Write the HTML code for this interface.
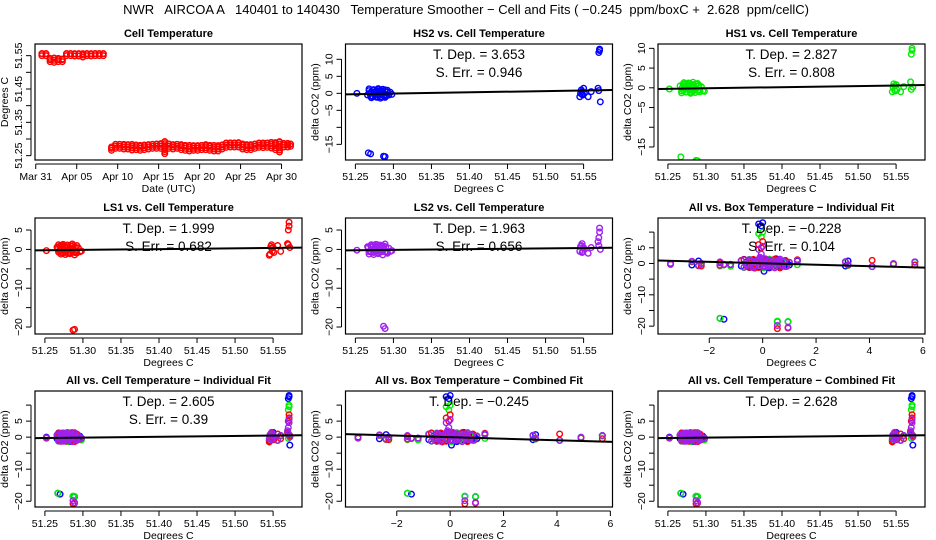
<!DOCTYPE html>
<html><head><meta charset="utf-8">
<style>
html,body{margin:0;padding:0;background:#fff;}
svg{display:block;font-family:"Liberation Sans",Arial,sans-serif;}
</style></head>
<body>
<svg id="chart" width="936" height="540" viewBox="0 0 936 540">
<text x="466" y="14" text-anchor="middle" font-size="13" xml:space="preserve">NWR   AIRCOA A   140401 to 140430   Temperature Smoother − Cell and Fits ( −0.245  ppm/boxC +  2.628  ppm/cellC)</text>
</svg>
<script>
// ---- Cell temperature time series (day offset from Mar 31 00:00) ----
const cellDays = [0.75,1.25,1.75,2.25,2.75,3.25,3.75,4.25,4.75,5.25,5.75,6.25,6.75,7.25,7.75,8.25,9.25,9.75,10.25,10.75,11.25,11.75,12.25,12.75,13.25,13.75,14.25,14.75,15.25,15.75,16.25,16.75,17.25,17.75,18.25,18.75,19.25,19.75,20.25,20.75,21.25,21.75,22.25,22.75,23.25,23.75,24.25,24.75,25.25,25.75,26.25,26.75,27.25,27.75,28.25,28.75,29.25,29.75,30.25,30.75,31.1];
const cellLo = [51.550,51.550,51.532,51.530,51.532,51.532,51.550,51.550,51.549,51.549,51.546,51.550,51.549,51.550,51.550,51.550,51.266,51.272,51.272,51.270,51.270,51.267,51.268,51.266,51.268,51.270,51.272,51.272,51.272,51.256,51.272,51.270,51.272,51.268,51.266,51.264,51.266,51.266,51.268,51.268,51.266,51.264,51.264,51.270,51.275,51.276,51.276,51.276,51.270,51.268,51.268,51.272,51.275,51.274,51.275,51.273,51.268,51.261,51.276,51.276,51.278];
const cellHi = [51.556,51.556,51.542,51.543,51.542,51.540,51.556,51.556,51.556,51.556,51.556,51.556,51.556,51.556,51.556,51.556,51.276,51.284,51.284,51.284,51.283,51.284,51.282,51.281,51.282,51.283,51.284,51.285,51.286,51.292,51.285,51.283,51.284,51.283,51.281,51.281,51.280,51.280,51.281,51.283,51.281,51.281,51.280,51.282,51.288,51.288,51.288,51.289,51.285,51.283,51.283,51.285,51.288,51.288,51.288,51.290,51.289,51.292,51.287,51.287,51.285];
const dateTicks = [0,5,10,15,20,25,30];
const dateLabels = ["Mar 31","Apr 05","Apr 10","Apr 15","Apr 20","Apr 25","Apr 30"];

// ---- Shared sample data: cell temp (T), box temp (B) and delta CO2 per species ----
const cellT = [51.252,51.266,51.268,51.270,51.271,51.273,51.274,51.276,51.277,51.279,51.280,51.281,51.283,51.284,51.286,51.287,51.289,51.290,51.292,51.294,51.296,51.298,51.272,51.278,51.285,
  51.267,51.270,51.287,51.289,
  51.545,51.547,51.548,51.549,51.550,51.551,51.556,51.560,51.569,51.570,51.571,51.571,51.572,
  51.268,51.271,51.274,51.277,51.280,51.283,51.286,51.289,51.292,51.275,51.281,51.287,51.269,51.279,51.291,51.546,51.548,51.570];
const boxT = [-3.45,-2.65,-2.40,-0.80,-0.60,-0.45,-0.30,-0.20,-0.10,0.00,0.10,0.20,0.30,0.40,0.50,0.60,0.70,0.80,0.90,1.00,-1.60,-1.20,3.10,3.20,4.90,
  -1.60,-1.45,0.55,0.95,
  -0.30,-0.10,0.10,0.30,0.50,-2.30,4.10,5.70,-0.10,-0.05,-0.15,0.00,0.05,
  -0.70,-0.50,-0.35,-0.15,0.05,0.25,0.45,0.65,0.85,-0.25,0.15,0.35,-0.55,0.55,0.75,-0.40,0.20,1.30];
const hs2 = [0,-0.5,0.8,-0.8,0.5,-1,1,-0.6,0.7,-1.2,1.2,-0.4,0.9,-1,0.6,-0.7,1,-0.9,0.4,-0.5,0.3,-0.3,-0.8,0.8,-0.2,
  -17.5,-17.8,-18.5,-18.6,
  -1,1,0.5,-0.5,1.5,0,-1,0.5,1.5,12,12.6,13,-2.5,
  1.3,-1.3,1.1,-1.1,1.4,-1.4,1.2,-1.2,0.9,0.2,-0.2,0.1,-0.1,0.5,-0.6,0,-0.3,0.8];
const hs1 = [-0.3,0.5,-0.8,0.9,-0.6,1,-1,0.7,-0.4,1.1,-1.1,0.6,-0.9,0.8,-0.5,1,-0.7,0.5,-1,0.3,-0.8,-0.9,0.4,-0.6,-0.3,
  -17.5,-0.5,-18.4,-18.5,
  -1,1,0.5,-0.8,0.8,-0.5,-1,0.3,1.5,8.5,9.5,10,0.2,
  -1.3,1.3,-1.1,1.2,-1.4,1.4,-1.2,1.1,-0.9,-0.1,0.2,-0.2,0.1,-0.5,0.6,0.2,-0.6,-0.4];
const ls1 = [-0.3,0.6,-0.7,0.9,-0.8,1,-0.9,0.8,-0.5,1.1,-1,0.7,-0.8,0.9,-0.6,1,-0.8,0.6,-0.9,0.4,-0.6,-0.4,0.5,-0.5,-0.2,
  0.2,-0.3,-20.8,-20.6,
  -1.5,0.8,1.2,-0.5,0.5,-0.8,1,-0.5,1.5,5,6,7,0.5,
  1.2,-1.2,1.3,-1.3,1.1,-1.1,1.4,-1.4,1,0.1,-0.1,0.3,-0.3,0.6,-0.5,-1.2,0.3,1.2];
const ls2 = [-0.2,0.7,-0.6,1,-0.7,1.1,-0.8,0.9,-0.6,1.2,-0.9,0.8,-0.7,1,-0.5,0.9,-0.6,0.7,-0.8,0.3,-0.5,-0.3,0.6,-0.4,0,
  0.5,-0.4,-19.8,-20.4,
  -0.5,1,1.5,-0.5,0.5,0,-1,0.5,2,3,4.5,5.5,0,
  -1.2,1.2,-1.3,1.3,-1.1,1.1,-1.4,1.4,-1,0.2,-0.2,0.4,-0.4,0.7,-0.6,0.8,-0.8,1];

// ---- Fit results ----
const fitTitles = ["T. Dep. = 3.653","T. Dep. = 2.827","T. Dep. = 1.999","T. Dep. = 1.963","T. Dep. = −0.228","T. Dep. = 2.605","T. Dep. = −0.245","T. Dep. = 2.628"];
const fitErrs = ["S. Err. = 0.946","S. Err. = 0.808","S. Err. = 0.682","S. Err. = 0.656","S. Err. = 0.104","S. Err. = 0.39","",""];
const fitSlopes = [3.653,2.827,1.999,1.963,-0.228,2.605,-0.245,2.628];
const fitIntercepts = [0.15,0.05,0.0,0.0,0.05,0.0,0.0,0.0];

const NS="http://www.w3.org/2000/svg";
const svg=document.getElementById('chart');
function mk(tag,attrs,parent){const e=document.createElementNS(NS,tag);for(const k in attrs)e.setAttribute(k,attrs[k]);(parent||svg).appendChild(e);return e;}

const COL=[35,345.5,658]; const ROW=[44,218,391]; const PW=267, PH=116;
const TEMP_DOM=[51.237,51.588]; const BOX_DOM=[-3.92,6.08];
const tempTicks=[51.25,51.30,51.35,51.40,51.45,51.50,51.55];
const boxTicks=[-2,0,2,4,6];

function panel(o){
  const g=mk('g',{});
  
  
  const L=o.x,T=o.y,R=L+PW,B=T+PH;
  const sx=v=>L+(v-o.xd[0])/(o.xd[1]-o.xd[0])*PW;
  const sy=v=>B-(v-o.yd[0])/(o.yd[1]-o.yd[0])*PH;
  const t=mk('text',{x:(L+R)/2,y:T-7,'text-anchor':'middle','font-size':11,'font-weight':'bold'},g);
  t.textContent=o.title;
  
  
  const xa=mk('g',{},g);
  
  
  const xt=o.xt.filter(v=>v>=o.xd[0]&&v<=o.xd[1]);
  mk('line',{x1:sx(xt[0]),x2:sx(xt[xt.length-1]),y1:B+4,y2:B+4,stroke:'#000'},xa);
  xt.forEach((v,i)=>{
    mk('line',{x1:sx(v),x2:sx(v),y1:B+4,y2:B+9,stroke:'#000'},xa);
    const lt=mk('text',{x:sx(v),y:B+20,'text-anchor':'middle','font-size':10.5},xa);
    lt.textContent=o.xl?o.xl[o.xt.indexOf(v)]:(o.xfmt?o.xfmt(v):v);
  });
  const xtitle=mk('text',{x:(L+R)/2,y:B+32,'text-anchor':'middle','font-size':10.5},g);
  xtitle.textContent=o.xlab;
  
  
  const ya=mk('g',{},g);
  
  
  const yt=o.yt.filter(v=>v>=o.yd[0]&&v<=o.yd[1]);
  mk('line',{x1:L-4,x2:L-4,y1:sy(yt[0]),y2:sy(yt[yt.length-1]),stroke:'#000'},ya);
  yt.forEach(v=>{
    mk('line',{x1:L-9,x2:L-4,y1:sy(v),y2:sy(v),stroke:'#000'},ya);
    if(o.yl.includes(v)){
      const lt=mk('text',{x:L-13,y:sy(v),'text-anchor':'middle','font-size':10.5,transform:`rotate(-90 ${L-13} ${sy(v)})`},ya);
      lt.textContent=o.yfmt?o.yfmt(v):String(v).replace('-','−');
    }
  });
  const ytitle=mk('text',{x:L-27,y:(T+B)/2,'text-anchor':'middle','font-size':10.5,transform:`rotate(-90 ${L-27} ${(T+B)/2})`},g);
  ytitle.textContent=o.ylab;
  
  
  const cid='c'+Math.round(L)+'_'+Math.round(T);
  const cp=mk('clipPath',{id:cid},g); mk('rect',{x:L,y:T,width:PW,height:PH},cp);
  const plot=mk('g',{'clip-path':`url(#${cid})`},g);
  o.draw(plot,sx,sy);
  mk('rect',{x:L,y:T,width:PW,height:PH,fill:'none',stroke:'#000','stroke-width':1.2},g);
  return {sx,sy,g};
}
function pt(p,x,y,c,name){
  const e=mk('circle',{cx:x,cy:y,r:2.8,fill:'none',stroke:c,'stroke-width':1.4},p);
  
  
}
function fitLine(p,sx,sy,xd,k,cx){
  const s=fitSlopes[k],b=fitIntercepts[k];
  const f=v=>b+s*(v-cx);
  const l=mk('line',{x1:sx(xd[0]),y1:sy(f(xd[0])),x2:sx(xd[1]),y2:sy(f(xd[1])),stroke:'#000','stroke-width':2},p);
  
  
}
function fitText(g,L,T,k){
  const a=mk('text',{x:L+PW/2,y:T+15,'text-anchor':'middle','font-size':13.5},g);
  a.textContent=fitTitles[k];
  
  
  if(fitErrs[k]){
    const b=mk('text',{x:L+PW/2,y:T+33,'text-anchor':'middle','font-size':13.5},g);
    b.textContent=fitErrs[k];
    
    
  }
}
const CX=51.36;
const fmtT=v=>v.toFixed(2);
const species=[[hs2,'#0000ff','hs2'],[hs1,'#00ee00','hs1'],[ls1,'#ff0000','ls1'],[ls2,'#a020f0','ls2']];

panel({name:'cell-temperature-panel',x:COL[0],y:ROW[0],xd:[-0.09,32.5],yd:[51.237,51.585],
  xt:dateTicks,xl:dateLabels,yt:[51.25,51.30,51.35,51.40,51.45,51.50,51.55],yl:[51.25,51.35,51.45,51.55],yfmt:fmtT,
  title:'Cell Temperature',xlab:'Date (UTC)',ylab:'Degrees C',
  draw:(p,sx,sy)=>{
    cellDays.forEach((d,i)=>{
      for(let v=cellLo[i];v<=cellHi[i]+1e-9;v+=0.006){pt(p,sx(d),sy(v),'#ff0000','cell-temp-point');}
      pt(p,sx(d),sy(cellHi[i]),'#ff0000','cell-temp-point');
    });
  }});

function speciesPanel(name,title,col,row,arr,color,yd,yt,yl,k){
  const P=panel({name,x:COL[col],y:ROW[row],xd:TEMP_DOM,yd,xt:tempTicks,yt,yl,xfmt:fmtT,
    title,xlab:'Degrees C',ylab:'delta CO2 (ppm)',
    draw:(p,sx,sy)=>{
      cellT.forEach((x,i)=>pt(p,sx(x),sy(arr[i]),color,'data-point'));
      fitLine(p,sx,sy,TEMP_DOM,k,CX);
    }});
  fitText(P.g,COL[col],ROW[row],k);
}
speciesPanel('hs2-panel','HS2 vs. Cell Temperature',1,0,hs2,'#0000ff',[-19.6,14.5],[-15,-10,-5,0,5,10],[-15,-5,0,5,10],0);
speciesPanel('hs1-panel','HS1 vs. Cell Temperature',2,0,hs1,'#00ee00',[-18.3,11.1],[-15,-10,-5,0,5,10],[-15,-5,0,5,10],1);
speciesPanel('ls1-panel','LS1 vs. Cell Temperature',0,1,ls1,'#ff0000',[-21.8,8.1],[-20,-15,-10,-5,0,5],[-20,-10,0,5],2);
speciesPanel('ls2-panel','LS2 vs. Cell Temperature',1,1,ls2,'#a020f0',[-21.8,8.1],[-20,-15,-10,-5,0,5],[-20,-10,0,5],3);

function allPanel(name,title,col,row,useBox,yd,k){
  const xd=useBox?BOX_DOM:TEMP_DOM;
  const P=panel({name,x:COL[col],y:ROW[row],xd,yd,xt:useBox?boxTicks:tempTicks,xfmt:useBox?(v=>String(v).replace('-','−')):fmtT,
    yt:[-20,-15,-10,-5,0,5,10],yl:[-20,-10,0,5],
    title,xlab:'Degrees C',ylab:'delta CO2 (ppm)',
    draw:(p,sx,sy)=>{
      species.forEach(([arr,c,nm])=>{
        (useBox?boxT:cellT).forEach((x,i)=>pt(p,sx(x),sy(arr[i]),c,nm+'-point'));
      });
      fitLine(p,sx,sy,xd,k,useBox?0:CX);
    }});
  fitText(P.g,COL[col],ROW[row],k);
}
allPanel('all-box-individual-panel','All vs. Box Temperature − Individual Fit',2,1,true,[-22.5,14.5],4);
allPanel('all-cell-individual-panel','All vs. Cell Temperature − Individual Fit',0,2,false,[-21.8,14.4],5);
allPanel('all-box-combined-panel','All vs. Box Temperature − Combined Fit',1,2,true,[-21.8,14.4],6);
allPanel('all-cell-combined-panel','All vs. Cell Temperature − Combined Fit',2,2,false,[-21.8,14.4],7);
</script>
</body></html>
